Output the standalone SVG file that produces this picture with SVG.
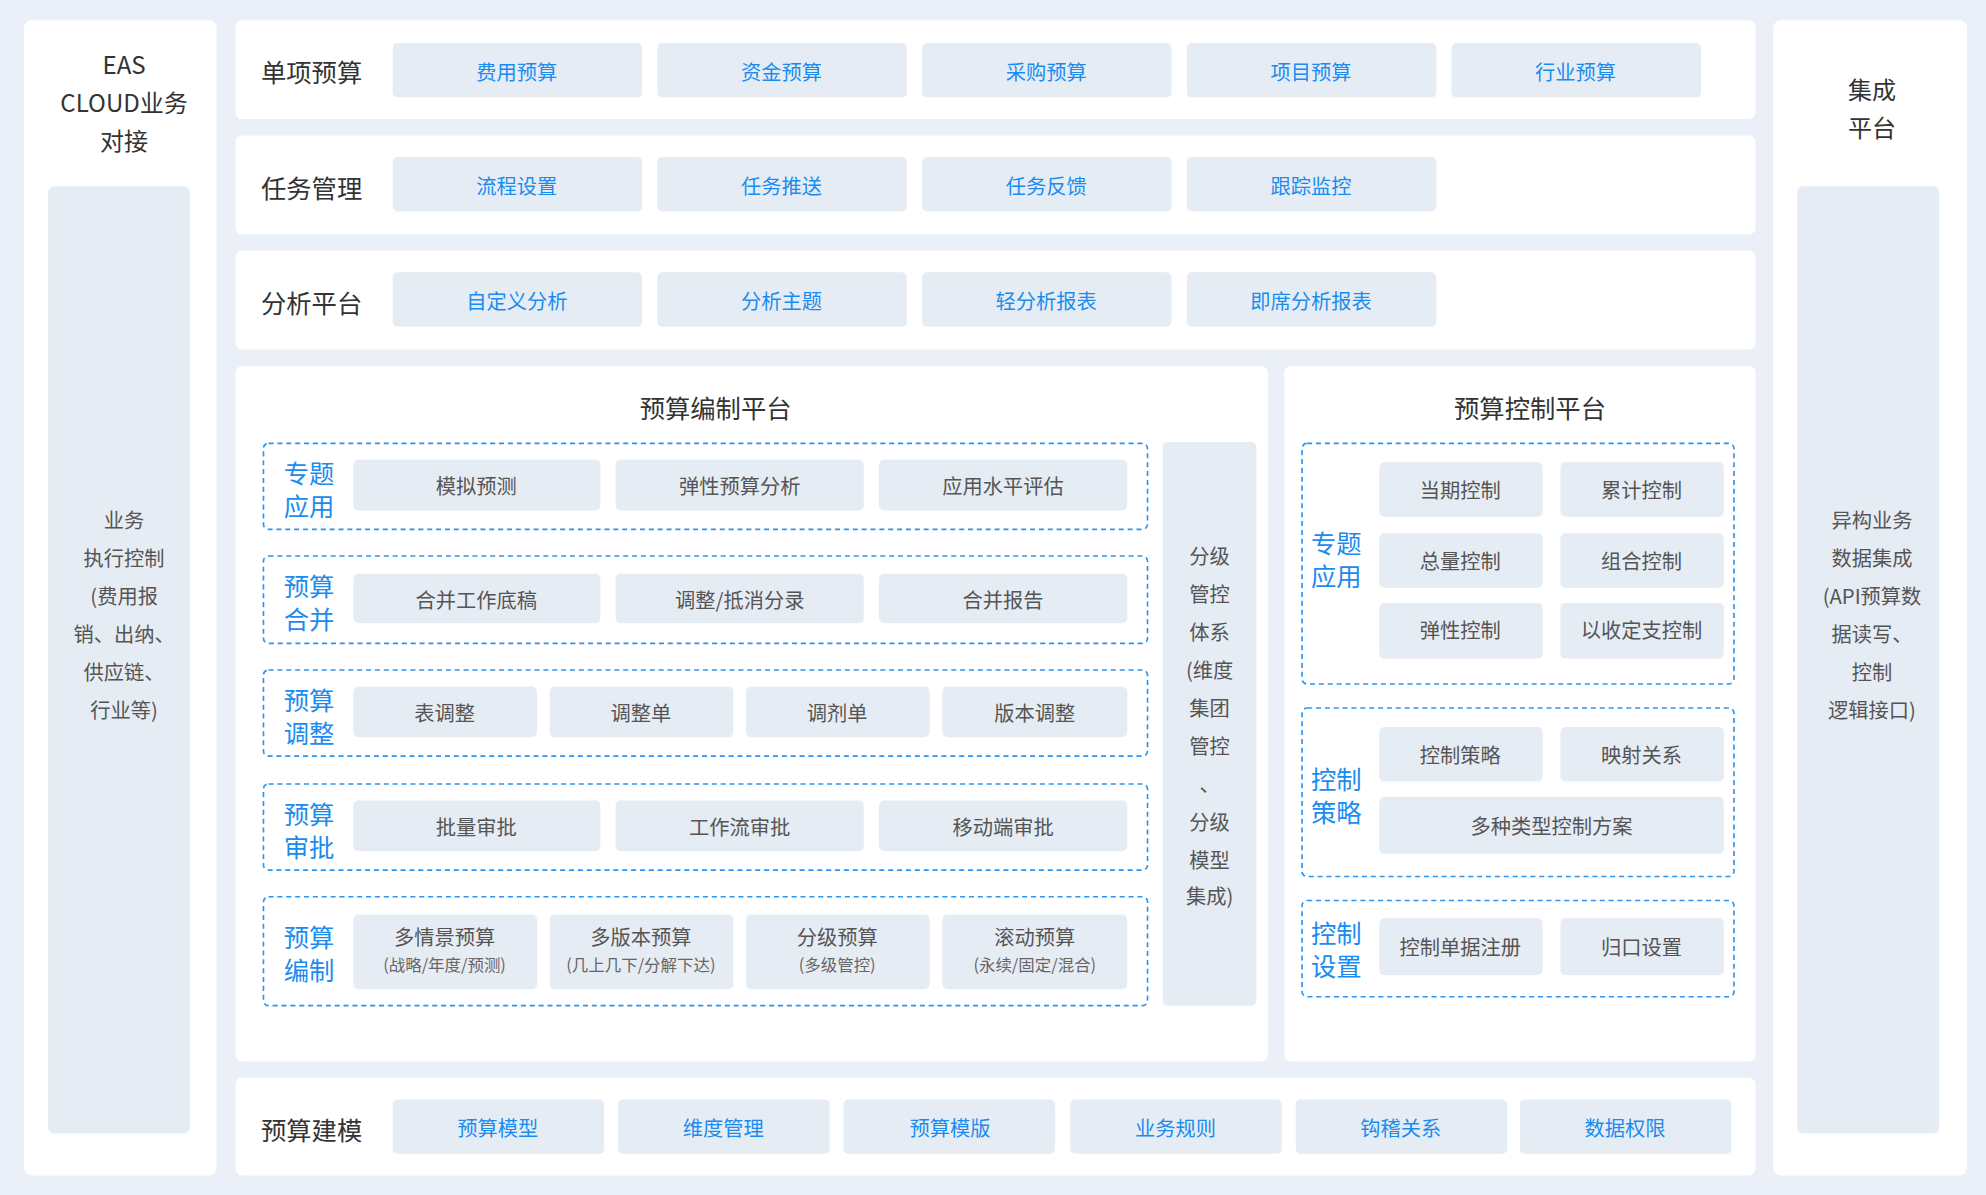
<svg xmlns="http://www.w3.org/2000/svg" width="1986" height="1195" viewBox="0 0 1986 1195">
<style>
text{font-family:"Noto Sans CJK SC","Liberation Sans",sans-serif;}
.panel{fill:#ffffff;}
.inner{fill:#e6ecf4;}
.btn{fill:#e6ecf4;}
.dash{fill:none;stroke:#2d95f0;stroke-width:1.3;stroke-dasharray:4 3;}
.rl{font-size:20px;fill:#333;}
.bt{font-size:16px;fill:#1a8cf0;text-anchor:middle;dominant-baseline:central;}
.gt{font-size:16px;fill:#555;text-anchor:middle;dominant-baseline:central;}
.st{font-size:13px;fill:#666;text-anchor:middle;dominant-baseline:central;}
.gl{font-size:20px;fill:#1a8cf0;text-anchor:middle;dominant-baseline:central;}
.tt{font-size:20px;fill:#333;text-anchor:middle;dominant-baseline:central;}
.sd{font-size:16px;fill:#555;text-anchor:middle;dominant-baseline:central;}
</style>
<rect width="1986" height="1195" fill="#ebeff7"/>
<g transform="scale(1.26658)">
<g id="left">
<rect class="panel" x="19" y="16" width="152" height="912" rx="6"/>
<text class="tt" style="font-size:19px" x="98" y="50">EAS</text>
<text class="tt" style="font-size:19px" x="98" y="80">CLOUD业务</text>
<text class="tt" style="font-size:19px" x="98" y="110">对接</text>
<rect class="inner" x="38" y="147" width="112" height="748" rx="5"/>
<text class="sd" x="98" y="410">业务</text>
<text class="sd" x="98" y="440">执行控制</text>
<text class="sd" x="98" y="470">(费用报</text>
<text class="sd" x="98" y="500">销、出纳、</text>
<text class="sd" x="98" y="530">供应链、</text>
<text class="sd" x="98" y="560">行业等)</text>
</g>
<g id="right">
<rect class="panel" x="1400" y="16" width="153" height="912" rx="6"/>
<text class="tt" style="font-size:19px" x="1478" y="70">集成</text>
<text class="tt" style="font-size:19px" x="1478" y="100">平台</text>
<rect class="inner" x="1419" y="147" width="112" height="748" rx="5"/>
<text class="sd" x="1478" y="410">异构业务</text>
<text class="sd" x="1478" y="440">数据集成</text>
<text class="sd" x="1478" y="470">(API预算数</text>
<text class="sd" x="1478" y="500">据读写、</text>
<text class="sd" x="1478" y="530">控制</text>
<text class="sd" x="1478" y="560">逻辑接口)</text>
</g>
<g id="row1">
<rect class="panel" x="186" y="16" width="1200" height="78" rx="5"/>
<text class="rl" x="206" y="65">单项预算</text>
<rect class="btn" x="310" y="34" width="197" height="43" rx="4"/><text class="bt" x="408" y="56">费用预算</text>
<rect class="btn" x="519" y="34" width="197" height="43" rx="4"/><text class="bt" x="617" y="56">资金预算</text>
<rect class="btn" x="728" y="34" width="197" height="43" rx="4"/><text class="bt" x="826" y="56">采购预算</text>
<rect class="btn" x="937" y="34" width="197" height="43" rx="4"/><text class="bt" x="1035" y="56">项目预算</text>
<rect class="btn" x="1146" y="34" width="197" height="43" rx="4"/><text class="bt" x="1244" y="56">行业预算</text>
</g>
<g id="row2">
<rect class="panel" x="186" y="107" width="1200" height="78" rx="5"/>
<text class="rl" x="206" y="156">任务管理</text>
<rect class="btn" x="310" y="124" width="197" height="43" rx="4"/><text class="bt" x="408" y="146">流程设置</text>
<rect class="btn" x="519" y="124" width="197" height="43" rx="4"/><text class="bt" x="617" y="146">任务推送</text>
<rect class="btn" x="728" y="124" width="197" height="43" rx="4"/><text class="bt" x="826" y="146">任务反馈</text>
<rect class="btn" x="937" y="124" width="197" height="43" rx="4"/><text class="bt" x="1035" y="146">跟踪监控</text>
</g>
<g id="row3">
<rect class="panel" x="186" y="198" width="1200" height="78" rx="5"/>
<text class="rl" x="206" y="247">分析平台</text>
<rect class="btn" x="310" y="215" width="197" height="43" rx="4"/><text class="bt" x="408" y="237">自定义分析</text>
<rect class="btn" x="519" y="215" width="197" height="43" rx="4"/><text class="bt" x="617" y="237">分析主题</text>
<rect class="btn" x="728" y="215" width="197" height="43" rx="4"/><text class="bt" x="826" y="237">轻分析报表</text>
<rect class="btn" x="937" y="215" width="197" height="43" rx="4"/><text class="bt" x="1035" y="237">即席分析报表</text>
</g>
<g id="compile">
<rect class="panel" x="186" y="289" width="815" height="549" rx="5"/>
<text class="tt" x="565" y="321">预算编制平台</text>
<rect class="dash" x="208" y="350" width="698" height="68" rx="4"/>
<text class="gl" x="244" y="373">专题</text><text class="gl" x="244" y="399">应用</text>
<rect class="btn" x="279" y="363" width="195" height="40" rx="4"/><text class="gt" x="376" y="383">模拟预测</text>
<rect class="btn" x="486" y="363" width="196" height="40" rx="4"/><text class="gt" x="584" y="383">弹性预算分析</text>
<rect class="btn" x="694" y="363" width="196" height="40" rx="4"/><text class="gt" x="792" y="383">应用水平评估</text>
<rect class="dash" x="208" y="439" width="698" height="69" rx="4"/>
<text class="gl" x="244" y="462">预算</text><text class="gl" x="244" y="488">合并</text>
<rect class="btn" x="279" y="453" width="195" height="39" rx="4"/><text class="gt" x="376" y="473">合并工作底稿</text>
<rect class="btn" x="486" y="453" width="196" height="39" rx="4"/><text class="gt" x="584" y="473">调整/抵消分录</text>
<rect class="btn" x="694" y="453" width="196" height="39" rx="4"/><text class="gt" x="792" y="473">合并报告</text>
<rect class="dash" x="208" y="529" width="698" height="68" rx="4"/>
<text class="gl" x="244" y="552">预算</text><text class="gl" x="244" y="578">调整</text>
<rect class="btn" x="279" y="542" width="145" height="40" rx="4"/><text class="gt" x="351" y="562">表调整</text>
<rect class="btn" x="434" y="542" width="145" height="40" rx="4"/><text class="gt" x="506" y="562">调整单</text>
<rect class="btn" x="589" y="542" width="145" height="40" rx="4"/><text class="gt" x="661" y="562">调剂单</text>
<rect class="btn" x="744" y="542" width="146" height="40" rx="4"/><text class="gt" x="817" y="562">版本调整</text>
<rect class="dash" x="208" y="619" width="698" height="68" rx="4"/>
<text class="gl" x="244" y="642">预算</text><text class="gl" x="244" y="668">审批</text>
<rect class="btn" x="279" y="632" width="195" height="40" rx="4"/><text class="gt" x="376" y="652">批量审批</text>
<rect class="btn" x="486" y="632" width="196" height="40" rx="4"/><text class="gt" x="584" y="652">工作流审批</text>
<rect class="btn" x="694" y="632" width="196" height="40" rx="4"/><text class="gt" x="792" y="652">移动端审批</text>
<rect class="dash" x="208" y="708" width="698" height="86" rx="4"/>
<text class="gl" x="244" y="739">预算</text><text class="gl" x="244" y="765">编制</text>
<rect class="btn" x="279" y="722" width="145" height="59" rx="4"/><text class="gt" x="351" y="739">多情景预算</text><text class="st" x="351" y="761">(战略/年度/预测)</text>
<rect class="btn" x="434" y="722" width="145" height="59" rx="4"/><text class="gt" x="506" y="739">多版本预算</text><text class="st" x="506" y="761">(几上几下/分解下达)</text>
<rect class="btn" x="589" y="722" width="145" height="59" rx="4"/><text class="gt" x="661" y="739">分级预算</text><text class="st" x="661" y="761">(多级管控)</text>
<rect class="btn" x="744" y="722" width="146" height="59" rx="4"/><text class="gt" x="817" y="739">滚动预算</text><text class="st" x="817" y="761">(永续/固定/混合)</text>
<rect class="inner" x="918" y="349" width="74" height="445" rx="4"/>
<text class="sd" x="955" y="438">分级</text>
<text class="sd" x="955" y="468">管控</text>
<text class="sd" x="955" y="498">体系</text>
<text class="sd" x="955" y="528">(维度</text>
<text class="sd" x="955" y="558">集团</text>
<text class="sd" x="955" y="588">管控</text>
<text class="sd" x="955" y="618">、</text>
<text class="sd" x="955" y="648">分级</text>
<text class="sd" x="955" y="678">模型</text>
<text class="sd" x="955" y="707">集成)</text>
</g>
<g id="control">
<rect class="panel" x="1014" y="289" width="372" height="549" rx="5"/>
<text class="tt" x="1208" y="321">预算控制平台</text>
<rect class="dash" x="1028" y="350" width="341" height="190" rx="4"/>
<text class="gl" x="1055" y="428">专题</text><text class="gl" x="1055" y="454">应用</text>
<rect class="btn" x="1089" y="365" width="129" height="43" rx="4"/><text class="gt" x="1153" y="386">当期控制</text>
<rect class="btn" x="1232" y="365" width="129" height="43" rx="4"/><text class="gt" x="1296" y="386">累计控制</text>
<rect class="btn" x="1089" y="421" width="129" height="43" rx="4"/><text class="gt" x="1153" y="442">总量控制</text>
<rect class="btn" x="1232" y="421" width="129" height="43" rx="4"/><text class="gt" x="1296" y="442">组合控制</text>
<rect class="btn" x="1089" y="476" width="129" height="44" rx="4"/><text class="gt" x="1153" y="497">弹性控制</text>
<rect class="btn" x="1232" y="476" width="129" height="44" rx="4"/><text class="gt" x="1296" y="497">以收定支控制</text>
<rect class="dash" x="1028" y="559" width="341" height="133" rx="4"/>
<text class="gl" x="1055" y="614">控制</text><text class="gl" x="1055" y="640">策略</text>
<rect class="btn" x="1089" y="574" width="129" height="43" rx="4"/><text class="gt" x="1153" y="595">控制策略</text>
<rect class="btn" x="1232" y="574" width="129" height="43" rx="4"/><text class="gt" x="1296" y="595">映射关系</text>
<rect class="btn" x="1089" y="629" width="272" height="45" rx="4"/><text class="gt" x="1225" y="651">多种类型控制方案</text>
<rect class="dash" x="1028" y="711" width="341" height="76" rx="4"/>
<text class="gl" x="1055" y="736">控制</text><text class="gl" x="1055" y="762">设置</text>
<rect class="btn" x="1089" y="725" width="129" height="45" rx="4"/><text class="gt" x="1153" y="747">控制单据注册</text>
<rect class="btn" x="1232" y="725" width="129" height="45" rx="4"/><text class="gt" x="1296" y="747">归口设置</text>
</g>
<g id="modeling">
<rect class="panel" x="186" y="851" width="1200" height="77" rx="5"/>
<text class="rl" x="206" y="900">预算建模</text>
<rect class="btn" x="310" y="868" width="167" height="43" rx="4"/><text class="bt" x="393" y="890">预算模型</text>
<rect class="btn" x="488" y="868" width="167" height="43" rx="4"/><text class="bt" x="571" y="890">维度管理</text>
<rect class="btn" x="666" y="868" width="167" height="43" rx="4"/><text class="bt" x="750" y="890">预算模版</text>
<rect class="btn" x="845" y="868" width="167" height="43" rx="4"/><text class="bt" x="928" y="890">业务规则</text>
<rect class="btn" x="1023" y="868" width="167" height="43" rx="4"/><text class="bt" x="1106" y="890">钩稽关系</text>
<rect class="btn" x="1200" y="868" width="167" height="43" rx="4"/><text class="bt" x="1283" y="890">数据权限</text>
</g>
<g id="connectors"></g>
</g>
</svg>
